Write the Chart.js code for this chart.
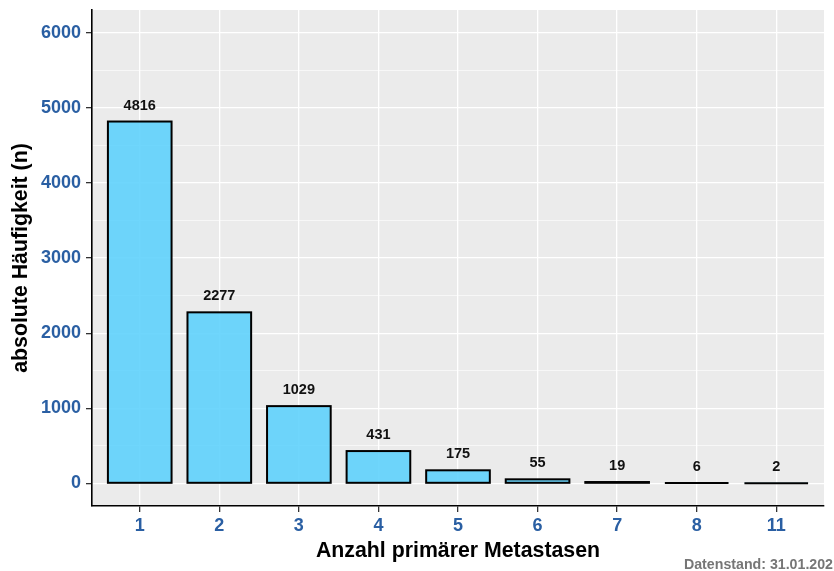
<!DOCTYPE html>
<html><head><meta charset="utf-8">
<script src="https://cdn.jsdelivr.net/npm/chart.js@4.4.0/dist/chart.umd.min.js"></script>
<style>html,body{margin:0;padding:0;background:#fff}#wrap{width:834px;height:571px}</style>
</head><body><div id="wrap"><canvas id="c" width="834" height="571"></canvas></div>
<script>
const categories = ["1","2","3","4","5","6","7","8","11"];
const counts = [4816, 2277, 1029, 431, 175, 55, 19, 6, 2];
const yTicks = [0,1000,2000,3000,4000,5000,6000];
const xTitle = "Anzahl primärer Metastasen";
const yTitle = "absolute Häufigkeit (n)";
const caption = "Datenstand: 31.01.202";

const positions = categories.map((c,i)=>i+1);
const FONT = "'Liberation Sans', Arial, sans-serif";
const BLUE = "#2a5fa3";

const bgPlugin = {
  id:'bg',
  beforeDraw(chart){
    const {ctx, chartArea:a} = chart;
    ctx.save(); ctx.fillStyle='#EBEBEB';
    ctx.fillRect(a.left,a.top,a.right-a.left,a.bottom-a.top); ctx.restore();
  },
  afterDatasetsDraw(chart){
    const ctx = chart.ctx;
    const meta = chart.getDatasetMeta(0);
    ctx.save();
    ctx.strokeStyle='#000'; ctx.lineWidth=2; ctx.lineJoin='miter';
    meta.data.forEach((el)=>{
      const h = Math.max(el.base - el.y, 0);
      ctx.strokeRect(el.x - el.width/2, el.y, el.width, h);
    });
    ctx.fillStyle='#111'; ctx.font='bold 14.5px '+FONT;
    ctx.textAlign='center'; ctx.textBaseline='middle';
    meta.data.forEach((el,i)=>{ ctx.fillText(String(counts[i]), el.x, el.y-16); });
    ctx.restore();
  },
  afterDraw(chart){
    const {ctx, chartArea:a} = chart;
    ctx.save();
    ctx.fillStyle='#000'; ctx.font='bold 21.3px '+FONT;
    ctx.textAlign='center'; ctx.textBaseline='middle';
    ctx.fillText(xTitle,(a.left+a.right)/2,551);
    ctx.save(); ctx.translate(21,(a.top+a.bottom)/2); ctx.rotate(-Math.PI/2);
    ctx.fillText(yTitle,0,0); ctx.restore();
    ctx.fillStyle='#767676'; ctx.font='bold 14.2px '+FONT;
    ctx.textAlign='right';
    ctx.fillText(caption,833,565);
    ctx.restore();
  }
};

new Chart(document.getElementById('c'),{
  type:'bar',
  data:{ datasets:[{
    data: positions.map((x,i)=>({x, y:counts[i]})),
    backgroundColor:'rgba(95,210,252,0.9)',
    borderWidth:0,
    barPercentage:0.8, categoryPercentage:1
  }]},
  options:{
    responsive:false, animation:false,
    layout:{padding:{top:10,right:10,left:0,bottom:0}},
    plugins:{legend:{display:false},tooltip:{enabled:false}},
    scales:{
      x:{type:'linear', min:0.4, max:9.6, offset:false,
        afterBuildTicks(s){ s.ticks = positions.map(v=>({value:v})); },
        afterFit(s){ s.height = 65; s.paddingLeft = 0; s.paddingRight = 0; },
        grid:{offset:false, color:'#fff', lineWidth:1.3, tickLength:6, tickColor:'#333', tickWidth:1.3},
        border:{display:true,color:'#000',width:1.6},
        ticks:{padding:3, color:BLUE, font:{family:FONT,weight:'bold',size:18},
          callback:(v)=>categories[Math.round(v)-1]||''}
      },
      y:{type:'linear', min:-300, max:6300,
        afterBuildTicks(s){ const t=[]; for(let v=0; v<=6000; v+=500) t.push({value:v}); s.ticks=t; },
        afterFit(s){ s.width = 92; s.paddingTop = 0; s.paddingBottom = 0; },
        grid:{color:'#fff',
          lineWidth:(c)=> (c.tick && c.tick.value%1000===0)?1.3:0.6,
          tickLength:6, tickWidth:1.3,
          tickColor:(c)=> (c.tick && c.tick.value%1000===0)?'#333':'rgba(0,0,0,0)'},
        border:{display:true,color:'#000',width:1.6},
        ticks:{padding:5, color:BLUE, font:{family:FONT,weight:'bold',size:18},
          callback:(v)=> yTicks.includes(v)?String(v):''}
      }
    }
  },
  plugins:[bgPlugin]
});
</script></body></html>
